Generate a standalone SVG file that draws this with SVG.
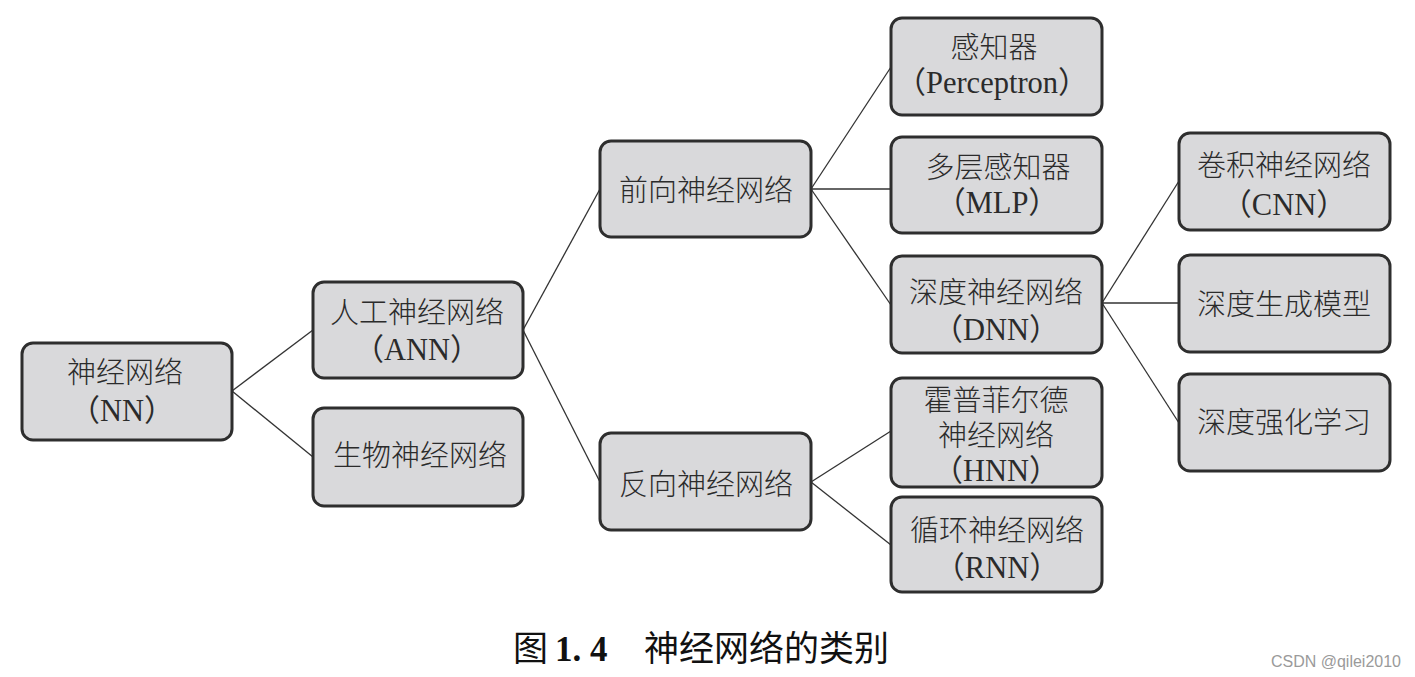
<svg xmlns="http://www.w3.org/2000/svg" width="1415" height="677" viewBox="0 0 1415 677">
  <style>
    .box { fill: #d9d9db; stroke: #2e2e2e; stroke-width: 3; }
    .lbl { font-family: 'Liberation Serif', 'Noto Sans CJK SC', serif; font-size: 29px; font-weight: 300; fill: #2b2b2b; text-anchor: middle; }
    .lat { font-size: 30.5px; font-weight: 400; }
    .conn line { stroke: #333333; stroke-width: 1.3; fill: none; }
    .cap { font-family: 'Noto Sans CJK SC', sans-serif; font-size: 35px; fill: #111111; }
    .capnum { font-family: 'Liberation Serif', serif; font-weight: bold; font-size: 35px; fill: #111111; }
    .wm { font-family: 'Liberation Sans', 'DejaVu Sans', sans-serif; font-size: 16px; fill: #9a9a9a; text-anchor: end; }
  </style>
  <rect width="1415" height="677" fill="#ffffff"/>

  <g id="connectors" class="conn">
    <line x1="232" y1="391" x2="313" y2="330"/>
    <line x1="232" y1="391" x2="313" y2="457"/>
    <line x1="523" y1="330" x2="600" y2="189"/>
    <line x1="523" y1="330" x2="600" y2="482"/>
    <line x1="811" y1="189" x2="891" y2="67"/>
    <line x1="811" y1="189" x2="891" y2="189"/>
    <line x1="811" y1="189" x2="891" y2="305"/>
    <line x1="811" y1="482" x2="891" y2="431"/>
    <line x1="811" y1="482" x2="891" y2="545"/>
    <line x1="1102" y1="303" x2="1179" y2="181"/>
    <line x1="1102" y1="303" x2="1179" y2="303"/>
    <line x1="1102" y1="303" x2="1179" y2="423"/>
  </g>

  <g id="node-nn">
    <rect class="box" x="22" y="343" width="210" height="97" rx="11"/>
    <text class="lbl" x="125" y="383">神经网络</text>
    <text class="lbl lat" x="122" y="421">（NN）</text>
  </g>
  <g id="node-ann">
    <rect class="box" x="313" y="282" width="210" height="96" rx="11"/>
    <text class="lbl" x="417" y="323">人工神经网络</text>
    <text class="lbl lat" x="417" y="360">（ANN）</text>
  </g>
  <g id="node-bio">
    <rect class="box" x="313" y="408" width="210" height="98" rx="11"/>
    <text class="lbl" x="420" y="466">生物神经网络</text>
  </g>
  <g id="node-ffnn">
    <rect class="box" x="600" y="141" width="211" height="96" rx="11"/>
    <text class="lbl" x="706" y="201">前向神经网络</text>
  </g>
  <g id="node-bnn">
    <rect class="box" x="600" y="433" width="211" height="97" rx="11"/>
    <text class="lbl" x="706" y="495">反向神经网络</text>
  </g>
  <g id="node-perceptron">
    <rect class="box" x="891" y="18" width="211" height="97" rx="11"/>
    <text class="lbl" x="994" y="58">感知器</text>
    <text class="lbl lat" x="992" y="93">（Perceptron）</text>
  </g>
  <g id="node-mlp">
    <rect class="box" x="891" y="137" width="211" height="96" rx="11"/>
    <text class="lbl" x="998" y="178">多层感知器</text>
    <text class="lbl lat" x="997" y="213">（MLP）</text>
  </g>
  <g id="node-dnn">
    <rect class="box" x="891" y="256" width="211" height="97" rx="11"/>
    <text class="lbl" x="996" y="303">深度神经网络</text>
    <text class="lbl lat" x="996" y="340">（DNN）</text>
  </g>
  <g id="node-hnn">
    <rect class="box" x="891" y="378" width="211" height="109" rx="11"/>
    <text class="lbl" x="996" y="411">霍普菲尔德</text>
    <text class="lbl" x="996" y="446">神经网络</text>
    <text class="lbl lat" x="996" y="481">（HNN）</text>
  </g>
  <g id="node-rnn">
    <rect class="box" x="891" y="497" width="211" height="95" rx="11"/>
    <text class="lbl" x="997" y="541">循环神经网络</text>
    <text class="lbl lat" x="997" y="578">（RNN）</text>
  </g>
  <g id="node-cnn">
    <rect class="box" x="1179" y="133" width="211" height="97" rx="11"/>
    <text class="lbl" x="1284" y="176">卷积神经网络</text>
    <text class="lbl lat" x="1284" y="215">（CNN）</text>
  </g>
  <g id="node-dgm">
    <rect class="box" x="1179" y="255" width="211" height="97" rx="11"/>
    <text class="lbl" x="1284" y="315">深度生成模型</text>
  </g>
  <g id="node-drl">
    <rect class="box" x="1179" y="374" width="211" height="97" rx="11"/>
    <text class="lbl" x="1284" y="433">深度强化学习</text>
  </g>

  <g id="caption">
    <text class="cap" x="513" y="661">图</text>
    <text class="capnum" x="555" y="661">1. 4</text>
    <text class="cap" x="644" y="661">神经网络的类别</text>
  </g>
  <text class="wm" x="1401" y="667">CSDN @qilei2010</text>
</svg>
